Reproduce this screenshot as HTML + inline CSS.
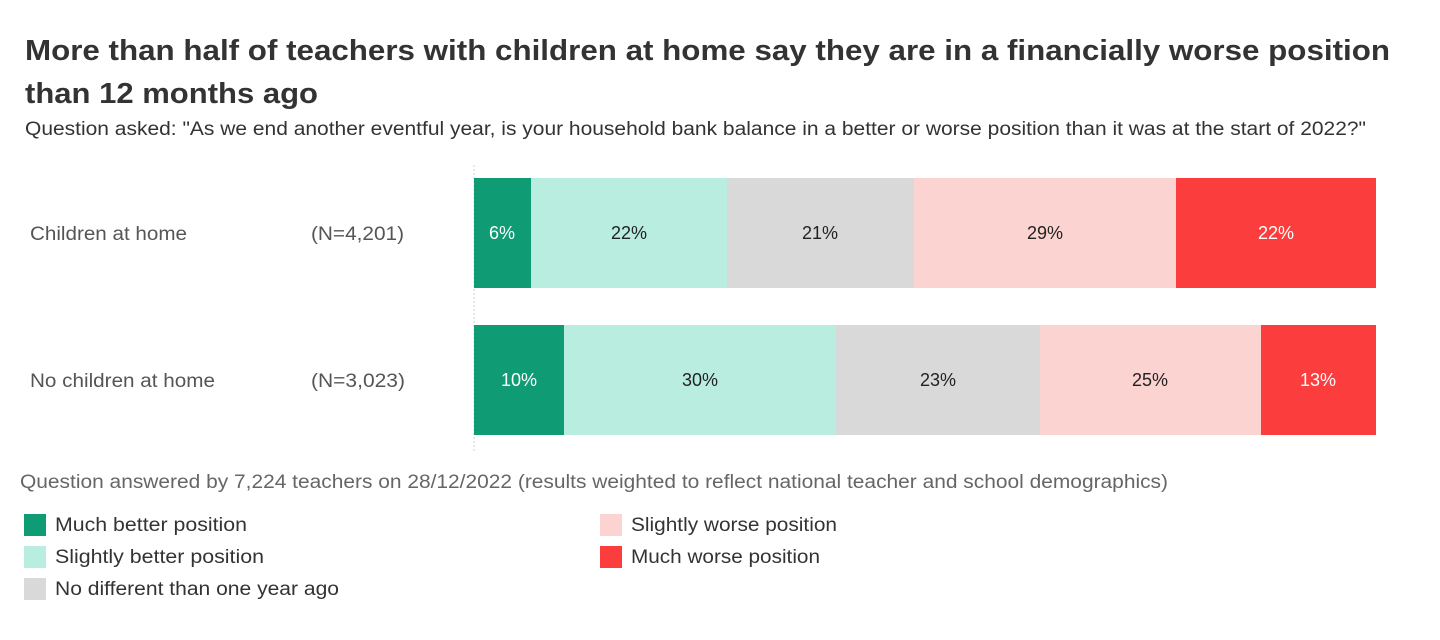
<!DOCTYPE html>
<html><head><meta charset="utf-8"><style>
body{margin:0;background:#fff;}
svg{display:block;font-family:"Liberation Sans",sans-serif;}
</style></head><body>
<svg width="1440" height="640" viewBox="0 0 1440 640">
<text x="25" y="60" font-size="29" font-weight="bold" fill="#333" textLength="1365" lengthAdjust="spacingAndGlyphs">More than half of teachers with children at home say they are in a financially worse position</text>
<text x="25" y="103" font-size="29" font-weight="bold" fill="#333" textLength="293" lengthAdjust="spacingAndGlyphs">than 12 months ago</text>
<text x="25" y="135" font-size="19" fill="#333" textLength="1341" lengthAdjust="spacingAndGlyphs">Question asked: "As we end another eventful year, is your household bank balance in a better or worse position than it was at the start of 2022?"</text>
<line x1="474" y1="165" x2="474" y2="452" stroke="#ccc" stroke-dasharray="2,2"/>
<g font-size="19" fill="#555">
<text x="30" y="240" textLength="157" lengthAdjust="spacingAndGlyphs">Children at home</text><text x="311" y="240" textLength="93" lengthAdjust="spacingAndGlyphs">(N=4,201)</text>
<text x="30" y="387" textLength="185" lengthAdjust="spacingAndGlyphs">No children at home</text><text x="311" y="387" textLength="94" lengthAdjust="spacingAndGlyphs">(N=3,023)</text>
</g>
<g>
<rect x="474" y="178" width="57" height="110" fill="#0f9b74"/>
<rect x="531" y="178" width="196" height="110" fill="#b9ede0"/>
<rect x="727" y="178" width="187" height="110" fill="#d9d9d9"/>
<rect x="914" y="178" width="262" height="110" fill="#fbd3d0"/>
<rect x="1176" y="178" width="200" height="110" fill="#fc3d3d"/>
<rect x="474" y="325" width="90" height="110" fill="#0f9b74"/>
<rect x="564" y="325" width="272" height="110" fill="#b9ede0"/>
<rect x="836" y="325" width="204" height="110" fill="#d9d9d9"/>
<rect x="1040" y="325" width="221" height="110" fill="#fbd3d0"/>
<rect x="1261" y="325" width="115" height="110" fill="#fc3d3d"/>
</g>
<g font-size="18" text-anchor="middle">
<text x="502" y="239" fill="#fff">6%</text><text x="629" y="239" fill="#222">22%</text><text x="820" y="239" fill="#222">21%</text><text x="1045" y="239" fill="#222">29%</text><text x="1276" y="239" fill="#fff">22%</text>
<text x="519" y="386" fill="#fff">10%</text><text x="700" y="386" fill="#222">30%</text><text x="938" y="386" fill="#222">23%</text><text x="1150" y="386" fill="#222">25%</text><text x="1318" y="386" fill="#fff">13%</text>
</g>
<text x="20" y="488" font-size="19" fill="#666" textLength="1148" lengthAdjust="spacingAndGlyphs">Question answered by 7,224 teachers on 28/12/2022 (results weighted to reflect national teacher and school demographics)</text>
<g font-size="19" fill="#333">
<rect x="24" y="514" width="22" height="22" fill="#0f9b74"/><text x="55" y="531" textLength="192" lengthAdjust="spacingAndGlyphs">Much better position</text>
<rect x="24" y="546" width="22" height="22" fill="#b9ede0"/><text x="55" y="563" textLength="209" lengthAdjust="spacingAndGlyphs">Slightly better position</text>
<rect x="24" y="578" width="22" height="22" fill="#d9d9d9"/><text x="55" y="595" textLength="284" lengthAdjust="spacingAndGlyphs">No different than one year ago</text>
<rect x="600" y="514" width="22" height="22" fill="#fbd3d0"/><text x="631" y="531" textLength="206" lengthAdjust="spacingAndGlyphs">Slightly worse position</text>
<rect x="600" y="546" width="22" height="22" fill="#fc3d3d"/><text x="631" y="563" textLength="189" lengthAdjust="spacingAndGlyphs">Much worse position</text>
</g>
</svg>
</body></html>
